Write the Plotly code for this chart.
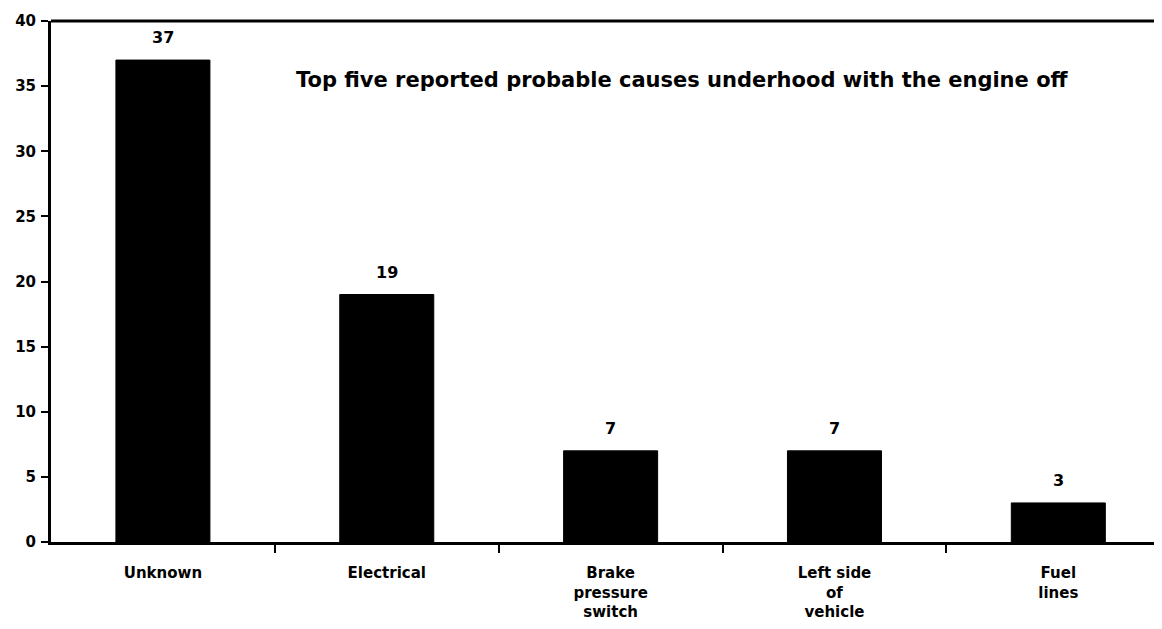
import plotly.graph_objects as go

categories = ["Unknown", "Electrical", "Brake<br>pressure<br>switch", "Left side<br>of<br>vehicle", "Fuel<br>lines"]
counts = [37, 19, 7, 7, 3]
y_ticks = [0, 5, 10, 15, 20, 25, 30, 35, 40]
title_text = "Top five reported probable causes underhood with the engine off"

FONT = "DejaVu Sans, Liberation Sans, Arial, sans-serif"
xs = list(range(len(categories)))

fig = go.Figure(go.Bar(
    x=xs,
    y=counts,
    marker=dict(color="black", line=dict(color="black", width=1)),
    width=0.42,
))

annotations = [dict(
    text=title_text, xref="paper", yref="paper", x=0.565, y=0.887,
    showarrow=False, xanchor="center", yanchor="middle",
    font=dict(family=FONT, size=21, color="black", weight="bold"),
)]
for xv, c in zip(xs, counts):
    annotations.append(dict(
        text=str(c), x=xv, y=c, xref="x", yref="y", showarrow=False,
        xanchor="center", yanchor="bottom", yshift=11,
        font=dict(family=FONT, size=16, color="black", weight="bold"),
    ))

fig.update_layout(
    width=1162, height=629,
    margin=dict(l=43, r=2, t=13, b=95),
    paper_bgcolor="white", plot_bgcolor="white",
    showlegend=False,
    font=dict(family=FONT, color="black"),
    annotations=annotations,
    shapes=[dict(type="line", xref="paper", yref="paper", x0=0, x1=1, y0=1, y1=1,
                 line=dict(color="black", width=3))],
)

fig.update_xaxes(
    automargin=False,
    tickmode="array", tickvals=xs, ticktext=categories,
    range=[-0.5, 4.49],
    showline=True, linecolor="black", linewidth=3,
    showgrid=False, zeroline=False,
    ticks="",
    tickfont=dict(family=FONT, size=15, color="black", weight="bold"),
    ticklabelstandoff=15,
    minor=dict(tickvals=[0.5, 1.5, 2.5, 3.5], ticks="outside", ticklen=8, tickwidth=2, tickcolor="black"),
)
fig.update_yaxes(
    automargin=False,
    range=[0, 40], tickvals=y_ticks,
    showline=True, linecolor="black", linewidth=3,
    showgrid=False, zeroline=False,
    ticks="outside", ticklen=7, tickwidth=2, tickcolor="black",
    ticklabelstandoff=2,
    tickfont=dict(family=FONT, size=15, color="black", weight="bold"),
)

fig.write_html("out.html")
